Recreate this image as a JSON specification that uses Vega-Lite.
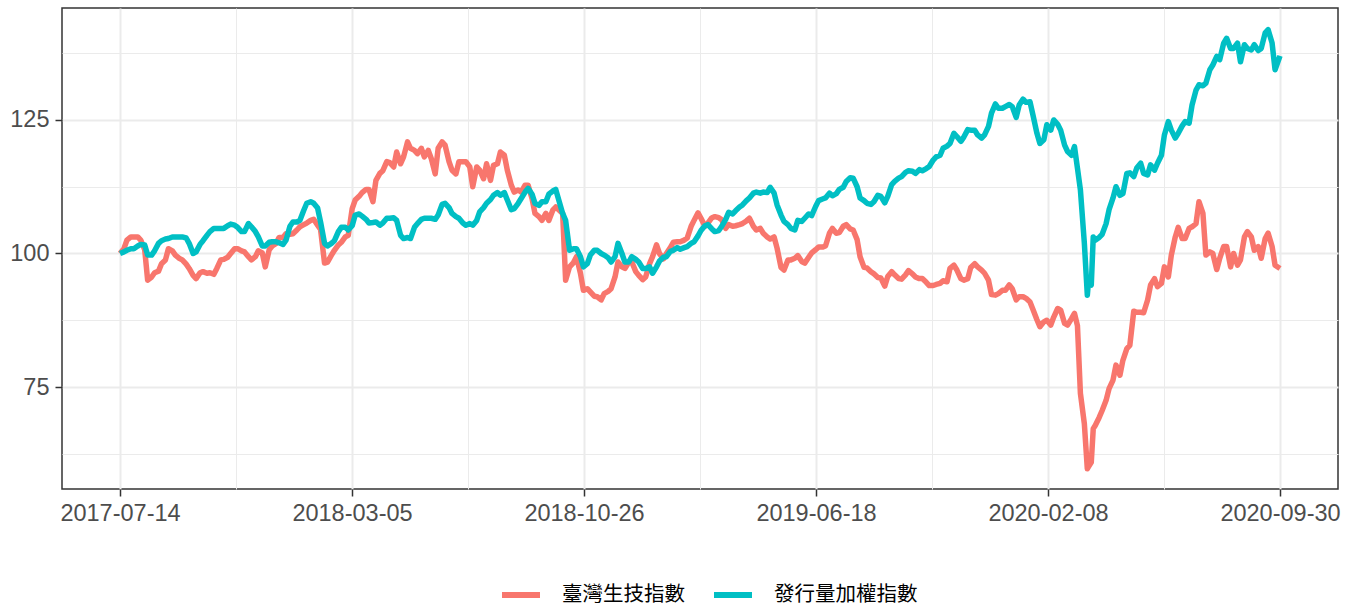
{
  "$schema": "https://vega.github.io/schema/vega-lite/v6.json",
  "width": 1276,
  "height": 481,
  "autosize": {"type": "none"},
  "padding": {"left": 62, "top": 8, "right": 15, "bottom": 118},
  "background": "white",
  "config": {
    "view": {"stroke": "#333333", "strokeWidth": 1.5},
    "axis": {
      "domain": false,
      "gridColor": "#EBEBEB",
      "tickColor": "#333333",
      "tickWidth": 1.5,
      "tickSize": 7,
      "labelFont": "Liberation Sans",
      "labelFontSize": 23.5,
      "labelColor": "#4D4D4D",
      "labelFlush": false,
      "labelOverlap": false,
      "title": null
    }
  },
  "data": {
    "values": [
      {"d": "2017-07-14", "bio": 100.0, "twse": 100.0},
      {"d": "2017-07-18", "bio": 100.9, "twse": 100.3},
      {"d": "2017-07-21", "bio": 102.5, "twse": 100.6},
      {"d": "2017-07-25", "bio": 103.1, "twse": 100.9},
      {"d": "2017-07-28", "bio": 103.1, "twse": 100.9},
      {"d": "2017-08-01", "bio": 103.1, "twse": 101.4},
      {"d": "2017-08-04", "bio": 102.5, "twse": 101.7},
      {"d": "2017-08-08", "bio": 100.7, "twse": 101.6},
      {"d": "2017-08-11", "bio": 95.0, "twse": 99.7},
      {"d": "2017-08-15", "bio": 95.6, "twse": 99.7},
      {"d": "2017-08-18", "bio": 96.4, "twse": 100.5},
      {"d": "2017-08-22", "bio": 96.7, "twse": 101.9},
      {"d": "2017-08-25", "bio": 98.1, "twse": 102.4},
      {"d": "2017-08-29", "bio": 98.8, "twse": 102.7},
      {"d": "2017-09-01", "bio": 100.9, "twse": 102.8},
      {"d": "2017-09-05", "bio": 100.5, "twse": 103.1},
      {"d": "2017-09-08", "bio": 99.7, "twse": 103.1},
      {"d": "2017-09-12", "bio": 99.1, "twse": 103.1},
      {"d": "2017-09-15", "bio": 98.8, "twse": 103.1},
      {"d": "2017-09-19", "bio": 98.0, "twse": 102.9},
      {"d": "2017-09-22", "bio": 97.2, "twse": 101.9},
      {"d": "2017-09-26", "bio": 95.9, "twse": 100.0},
      {"d": "2017-09-29", "bio": 95.3, "twse": 100.3},
      {"d": "2017-10-03", "bio": 96.4, "twse": 101.7},
      {"d": "2017-10-06", "bio": 96.6, "twse": 102.4},
      {"d": "2017-10-10", "bio": 96.3, "twse": 103.4},
      {"d": "2017-10-13", "bio": 96.4, "twse": 104.1},
      {"d": "2017-10-17", "bio": 96.1, "twse": 104.7},
      {"d": "2017-10-20", "bio": 97.2, "twse": 104.7},
      {"d": "2017-10-24", "bio": 98.8, "twse": 104.7},
      {"d": "2017-10-27", "bio": 98.9, "twse": 104.7},
      {"d": "2017-10-31", "bio": 99.3, "twse": 105.2},
      {"d": "2017-11-03", "bio": 100.0, "twse": 105.5},
      {"d": "2017-11-07", "bio": 100.9, "twse": 105.3},
      {"d": "2017-11-10", "bio": 100.9, "twse": 104.9},
      {"d": "2017-11-14", "bio": 100.5, "twse": 104.1},
      {"d": "2017-11-17", "bio": 100.3, "twse": 104.1},
      {"d": "2017-11-21", "bio": 99.4, "twse": 105.6},
      {"d": "2017-11-24", "bio": 98.8, "twse": 105.0},
      {"d": "2017-11-28", "bio": 99.4, "twse": 104.1},
      {"d": "2017-12-01", "bio": 100.5, "twse": 103.1},
      {"d": "2017-12-05", "bio": 100.1, "twse": 101.4},
      {"d": "2017-12-08", "bio": 97.5, "twse": 101.4},
      {"d": "2017-12-12", "bio": 100.7, "twse": 102.1},
      {"d": "2017-12-15", "bio": 101.4, "twse": 102.2},
      {"d": "2017-12-19", "bio": 101.9, "twse": 102.2},
      {"d": "2017-12-22", "bio": 103.0, "twse": 102.0},
      {"d": "2017-12-26", "bio": 103.0, "twse": 101.7},
      {"d": "2017-12-29", "bio": 103.7, "twse": 102.5},
      {"d": "2018-01-02", "bio": 103.6, "twse": 105.1},
      {"d": "2018-01-05", "bio": 103.7, "twse": 105.9},
      {"d": "2018-01-09", "bio": 104.4, "twse": 105.9},
      {"d": "2018-01-12", "bio": 105.0, "twse": 106.2},
      {"d": "2018-01-16", "bio": 105.4, "twse": 108.1},
      {"d": "2018-01-19", "bio": 105.7, "twse": 109.4},
      {"d": "2018-01-23", "bio": 106.2, "twse": 109.7},
      {"d": "2018-01-26", "bio": 106.4, "twse": 109.4},
      {"d": "2018-01-30", "bio": 105.3, "twse": 108.5},
      {"d": "2018-02-02", "bio": 104.5, "twse": 105.9},
      {"d": "2018-02-06", "bio": 98.2, "twse": 101.9},
      {"d": "2018-02-09", "bio": 98.4, "twse": 101.4},
      {"d": "2018-02-13", "bio": 99.7, "twse": 101.9},
      {"d": "2018-02-16", "bio": 100.6, "twse": 102.4},
      {"d": "2018-02-20", "bio": 101.6, "twse": 104.1},
      {"d": "2018-02-23", "bio": 102.1, "twse": 104.9},
      {"d": "2018-02-27", "bio": 103.1, "twse": 104.9},
      {"d": "2018-03-02", "bio": 103.4, "twse": 104.4},
      {"d": "2018-03-06", "bio": 108.4, "twse": 105.2},
      {"d": "2018-03-09", "bio": 110.0, "twse": 107.2},
      {"d": "2018-03-13", "bio": 110.7, "twse": 107.4},
      {"d": "2018-03-16", "bio": 111.4, "twse": 107.0},
      {"d": "2018-03-20", "bio": 112.0, "twse": 106.4},
      {"d": "2018-03-23", "bio": 112.0, "twse": 105.7},
      {"d": "2018-03-27", "bio": 109.7, "twse": 105.8},
      {"d": "2018-03-30", "bio": 113.7, "twse": 105.9},
      {"d": "2018-04-03", "bio": 115.0, "twse": 105.3},
      {"d": "2018-04-06", "bio": 115.5, "twse": 105.7},
      {"d": "2018-04-10", "bio": 117.2, "twse": 106.6},
      {"d": "2018-04-13", "bio": 117.0, "twse": 106.6},
      {"d": "2018-04-17", "bio": 116.2, "twse": 106.7},
      {"d": "2018-04-20", "bio": 119.0, "twse": 106.2},
      {"d": "2018-04-24", "bio": 116.8, "twse": 103.4},
      {"d": "2018-04-27", "bio": 118.1, "twse": 102.8},
      {"d": "2018-05-01", "bio": 120.9, "twse": 103.0},
      {"d": "2018-05-04", "bio": 119.7, "twse": 102.8},
      {"d": "2018-05-08", "bio": 119.3, "twse": 104.9},
      {"d": "2018-05-11", "bio": 118.7, "twse": 105.6},
      {"d": "2018-05-15", "bio": 119.7, "twse": 106.4},
      {"d": "2018-05-18", "bio": 118.1, "twse": 106.6},
      {"d": "2018-05-22", "bio": 119.3, "twse": 106.6},
      {"d": "2018-05-25", "bio": 117.8, "twse": 106.6},
      {"d": "2018-05-29", "bio": 114.9, "twse": 106.4},
      {"d": "2018-06-01", "bio": 119.7, "twse": 107.2},
      {"d": "2018-06-05", "bio": 120.9, "twse": 109.2},
      {"d": "2018-06-08", "bio": 120.3, "twse": 109.4},
      {"d": "2018-06-12", "bio": 117.2, "twse": 108.6},
      {"d": "2018-06-15", "bio": 115.6, "twse": 107.5},
      {"d": "2018-06-19", "bio": 114.9, "twse": 106.9},
      {"d": "2018-06-22", "bio": 117.2, "twse": 106.6},
      {"d": "2018-06-26", "bio": 117.2, "twse": 105.7},
      {"d": "2018-06-29", "bio": 117.2, "twse": 105.3},
      {"d": "2018-07-03", "bio": 116.2, "twse": 105.6},
      {"d": "2018-07-06", "bio": 112.5, "twse": 105.3},
      {"d": "2018-07-10", "bio": 116.2, "twse": 106.2},
      {"d": "2018-07-13", "bio": 115.6, "twse": 107.8},
      {"d": "2018-07-17", "bio": 114.0, "twse": 108.6},
      {"d": "2018-07-20", "bio": 116.8, "twse": 109.4},
      {"d": "2018-07-24", "bio": 113.7, "twse": 110.1},
      {"d": "2018-07-27", "bio": 116.5, "twse": 110.9},
      {"d": "2018-07-31", "bio": 116.8, "twse": 111.4},
      {"d": "2018-08-03", "bio": 119.0, "twse": 110.9},
      {"d": "2018-08-07", "bio": 118.4, "twse": 111.4},
      {"d": "2018-08-10", "bio": 115.6, "twse": 110.0},
      {"d": "2018-08-14", "bio": 112.8, "twse": 108.2},
      {"d": "2018-08-17", "bio": 111.5, "twse": 108.4},
      {"d": "2018-08-21", "bio": 111.9, "twse": 109.4},
      {"d": "2018-08-24", "bio": 111.5, "twse": 110.3},
      {"d": "2018-08-28", "bio": 112.8, "twse": 111.5},
      {"d": "2018-08-31", "bio": 112.8, "twse": 112.2},
      {"d": "2018-09-04", "bio": 110.3, "twse": 111.1},
      {"d": "2018-09-07", "bio": 107.5, "twse": 109.4},
      {"d": "2018-09-11", "bio": 106.9, "twse": 109.0},
      {"d": "2018-09-14", "bio": 106.2, "twse": 109.7},
      {"d": "2018-09-18", "bio": 107.5, "twse": 109.7},
      {"d": "2018-09-21", "bio": 106.2, "twse": 111.1},
      {"d": "2018-09-25", "bio": 108.1, "twse": 111.7},
      {"d": "2018-09-28", "bio": 108.7, "twse": 112.0},
      {"d": "2018-10-05", "bio": 107.5, "twse": 107.5},
      {"d": "2018-10-08", "bio": 95.0, "twse": 106.2},
      {"d": "2018-10-12", "bio": 97.5, "twse": 100.6},
      {"d": "2018-10-16", "bio": 98.3, "twse": 100.9},
      {"d": "2018-10-19", "bio": 99.4, "twse": 100.9},
      {"d": "2018-10-23", "bio": 96.3, "twse": 99.4},
      {"d": "2018-10-26", "bio": 93.1, "twse": 97.5},
      {"d": "2018-10-30", "bio": 93.4, "twse": 98.1},
      {"d": "2018-11-02", "bio": 92.8, "twse": 99.7},
      {"d": "2018-11-06", "bio": 92.0, "twse": 100.6},
      {"d": "2018-11-09", "bio": 91.9, "twse": 100.6},
      {"d": "2018-11-13", "bio": 91.3, "twse": 100.0},
      {"d": "2018-11-16", "bio": 92.5, "twse": 99.7},
      {"d": "2018-11-20", "bio": 92.9, "twse": 99.2},
      {"d": "2018-11-23", "bio": 93.4, "twse": 98.4},
      {"d": "2018-11-27", "bio": 95.6, "twse": 99.4},
      {"d": "2018-11-30", "bio": 98.4, "twse": 101.9},
      {"d": "2018-12-04", "bio": 97.5, "twse": 100.0},
      {"d": "2018-12-07", "bio": 97.2, "twse": 98.4},
      {"d": "2018-12-11", "bio": 98.4, "twse": 98.4},
      {"d": "2018-12-14", "bio": 98.4, "twse": 99.4},
      {"d": "2018-12-18", "bio": 96.6, "twse": 98.9},
      {"d": "2018-12-21", "bio": 95.9, "twse": 98.4},
      {"d": "2018-12-25", "bio": 95.1, "twse": 97.2},
      {"d": "2018-12-28", "bio": 95.6, "twse": 97.2},
      {"d": "2019-01-01", "bio": 98.1, "twse": 97.5},
      {"d": "2019-01-04", "bio": 99.4, "twse": 96.3},
      {"d": "2019-01-08", "bio": 101.6, "twse": 97.5},
      {"d": "2019-01-11", "bio": 100.0, "twse": 98.6},
      {"d": "2019-01-15", "bio": 99.0, "twse": 99.3},
      {"d": "2019-01-18", "bio": 100.0, "twse": 99.4},
      {"d": "2019-01-22", "bio": 101.1, "twse": 100.4},
      {"d": "2019-01-25", "bio": 102.1, "twse": 100.6},
      {"d": "2019-01-29", "bio": 102.2, "twse": 101.1},
      {"d": "2019-02-01", "bio": 102.2, "twse": 100.8},
      {"d": "2019-02-05", "bio": 102.5, "twse": 101.1},
      {"d": "2019-02-08", "bio": 102.9, "twse": 101.3},
      {"d": "2019-02-12", "bio": 105.1, "twse": 101.9},
      {"d": "2019-02-15", "bio": 106.2, "twse": 102.2},
      {"d": "2019-02-19", "bio": 107.6, "twse": 103.3},
      {"d": "2019-02-22", "bio": 106.6, "twse": 104.3},
      {"d": "2019-02-26", "bio": 105.1, "twse": 105.2},
      {"d": "2019-03-01", "bio": 105.7, "twse": 105.4},
      {"d": "2019-03-05", "bio": 106.7, "twse": 104.6},
      {"d": "2019-03-08", "bio": 106.9, "twse": 104.1},
      {"d": "2019-03-12", "bio": 106.7, "twse": 104.3},
      {"d": "2019-03-15", "bio": 106.3, "twse": 105.1},
      {"d": "2019-03-19", "bio": 104.7, "twse": 106.4},
      {"d": "2019-03-22", "bio": 105.4, "twse": 107.7},
      {"d": "2019-03-26", "bio": 105.1, "twse": 107.4},
      {"d": "2019-03-29", "bio": 105.2, "twse": 108.0},
      {"d": "2019-04-02", "bio": 105.4, "twse": 108.7},
      {"d": "2019-04-05", "bio": 105.6, "twse": 109.1},
      {"d": "2019-04-09", "bio": 106.1, "twse": 109.9},
      {"d": "2019-04-12", "bio": 106.6, "twse": 110.4},
      {"d": "2019-04-16", "bio": 105.1, "twse": 111.3},
      {"d": "2019-04-19", "bio": 104.4, "twse": 111.5},
      {"d": "2019-04-23", "bio": 104.7, "twse": 111.3},
      {"d": "2019-04-26", "bio": 103.8, "twse": 111.5},
      {"d": "2019-04-30", "bio": 103.1, "twse": 111.4},
      {"d": "2019-05-03", "bio": 102.7, "twse": 112.4},
      {"d": "2019-05-07", "bio": 103.1, "twse": 111.3},
      {"d": "2019-05-10", "bio": 101.0, "twse": 109.1},
      {"d": "2019-05-14", "bio": 97.4, "twse": 107.2},
      {"d": "2019-05-17", "bio": 96.9, "twse": 106.0},
      {"d": "2019-05-21", "bio": 98.8, "twse": 105.4},
      {"d": "2019-05-24", "bio": 98.8, "twse": 104.7},
      {"d": "2019-05-28", "bio": 99.1, "twse": 104.4},
      {"d": "2019-05-31", "bio": 99.6, "twse": 106.2},
      {"d": "2019-06-04", "bio": 98.5, "twse": 106.0},
      {"d": "2019-06-07", "bio": 98.2, "twse": 106.6},
      {"d": "2019-06-11", "bio": 99.3, "twse": 107.4},
      {"d": "2019-06-14", "bio": 100.1, "twse": 107.1},
      {"d": "2019-06-18", "bio": 100.7, "twse": 108.8},
      {"d": "2019-06-21", "bio": 101.2, "twse": 109.9},
      {"d": "2019-06-25", "bio": 101.2, "twse": 110.2},
      {"d": "2019-06-28", "bio": 101.4, "twse": 110.4},
      {"d": "2019-07-02", "bio": 103.8, "twse": 111.3},
      {"d": "2019-07-05", "bio": 104.7, "twse": 110.8},
      {"d": "2019-07-09", "bio": 103.8, "twse": 111.2},
      {"d": "2019-07-12", "bio": 103.9, "twse": 112.0},
      {"d": "2019-07-16", "bio": 105.1, "twse": 112.4},
      {"d": "2019-07-19", "bio": 105.4, "twse": 113.5},
      {"d": "2019-07-23", "bio": 104.6, "twse": 114.2},
      {"d": "2019-07-26", "bio": 104.4, "twse": 114.1},
      {"d": "2019-07-30", "bio": 102.6, "twse": 112.5},
      {"d": "2019-08-02", "bio": 99.4, "twse": 110.4},
      {"d": "2019-08-06", "bio": 97.4, "twse": 109.9},
      {"d": "2019-08-09", "bio": 97.3, "twse": 109.4},
      {"d": "2019-08-13", "bio": 96.6, "twse": 109.2},
      {"d": "2019-08-16", "bio": 96.2, "twse": 109.7},
      {"d": "2019-08-20", "bio": 95.5, "twse": 110.9},
      {"d": "2019-08-23", "bio": 95.4, "twse": 110.7},
      {"d": "2019-08-27", "bio": 93.9, "twse": 109.5},
      {"d": "2019-08-30", "bio": 95.7, "twse": 110.7},
      {"d": "2019-09-03", "bio": 96.6, "twse": 112.9},
      {"d": "2019-09-06", "bio": 96.0, "twse": 113.5},
      {"d": "2019-09-10", "bio": 95.3, "twse": 114.1},
      {"d": "2019-09-13", "bio": 95.2, "twse": 114.4},
      {"d": "2019-09-17", "bio": 96.0, "twse": 115.2},
      {"d": "2019-09-20", "bio": 96.8, "twse": 115.5},
      {"d": "2019-09-24", "bio": 96.2, "twse": 115.4},
      {"d": "2019-09-27", "bio": 95.6, "twse": 115.0},
      {"d": "2019-10-01", "bio": 95.3, "twse": 115.7},
      {"d": "2019-10-04", "bio": 95.3, "twse": 115.5},
      {"d": "2019-10-08", "bio": 94.6, "twse": 115.9},
      {"d": "2019-10-11", "bio": 94.0, "twse": 116.3},
      {"d": "2019-10-15", "bio": 94.0, "twse": 117.5},
      {"d": "2019-10-18", "bio": 94.2, "twse": 118.1},
      {"d": "2019-10-22", "bio": 94.4, "twse": 118.4},
      {"d": "2019-10-25", "bio": 94.9, "twse": 119.7},
      {"d": "2019-10-29", "bio": 94.7, "twse": 120.1},
      {"d": "2019-11-01", "bio": 97.2, "twse": 120.6},
      {"d": "2019-11-05", "bio": 97.8, "twse": 122.5},
      {"d": "2019-11-08", "bio": 96.9, "twse": 121.9},
      {"d": "2019-11-12", "bio": 95.3, "twse": 121.0},
      {"d": "2019-11-15", "bio": 95.0, "twse": 121.8},
      {"d": "2019-11-19", "bio": 95.3, "twse": 123.2},
      {"d": "2019-11-22", "bio": 97.4, "twse": 123.1},
      {"d": "2019-11-26", "bio": 98.1, "twse": 123.1},
      {"d": "2019-11-29", "bio": 97.5, "twse": 122.2},
      {"d": "2019-12-03", "bio": 96.9, "twse": 121.6},
      {"d": "2019-12-06", "bio": 96.3, "twse": 122.2},
      {"d": "2019-12-10", "bio": 95.0, "twse": 123.8},
      {"d": "2019-12-13", "bio": 92.3, "twse": 126.3},
      {"d": "2019-12-17", "bio": 92.2, "twse": 128.0},
      {"d": "2019-12-20", "bio": 92.5, "twse": 127.2},
      {"d": "2019-12-24", "bio": 93.1, "twse": 127.2},
      {"d": "2019-12-27", "bio": 93.1, "twse": 127.5},
      {"d": "2019-12-31", "bio": 94.1, "twse": 127.9},
      {"d": "2020-01-03", "bio": 93.4, "twse": 127.5},
      {"d": "2020-01-07", "bio": 91.3, "twse": 125.5},
      {"d": "2020-01-10", "bio": 91.9, "twse": 127.8},
      {"d": "2020-01-14", "bio": 91.9, "twse": 128.9},
      {"d": "2020-01-17", "bio": 91.6, "twse": 128.3},
      {"d": "2020-01-21", "bio": 90.9, "twse": 128.4},
      {"d": "2020-01-24", "bio": 89.5, "twse": 125.9},
      {"d": "2020-01-28", "bio": 87.6, "twse": 122.5},
      {"d": "2020-01-31", "bio": 86.3, "twse": 120.6},
      {"d": "2020-02-04", "bio": 87.2, "twse": 121.3},
      {"d": "2020-02-07", "bio": 87.5, "twse": 124.1},
      {"d": "2020-02-11", "bio": 86.6, "twse": 123.1},
      {"d": "2020-02-14", "bio": 88.1, "twse": 125.0},
      {"d": "2020-02-18", "bio": 89.7, "twse": 124.2},
      {"d": "2020-02-21", "bio": 89.4, "twse": 123.1},
      {"d": "2020-02-25", "bio": 86.9, "twse": 120.3},
      {"d": "2020-02-28", "bio": 86.6, "twse": 119.1},
      {"d": "2020-03-03", "bio": 87.8, "twse": 118.4},
      {"d": "2020-03-06", "bio": 88.8, "twse": 120.0},
      {"d": "2020-03-09", "bio": 86.5, "twse": 116.0},
      {"d": "2020-03-12", "bio": 73.8, "twse": 111.9},
      {"d": "2020-03-16", "bio": 68.1, "twse": 101.9},
      {"d": "2020-03-19", "bio": 59.7, "twse": 92.2},
      {"d": "2020-03-20", "bio": 60.0, "twse": 94.4},
      {"d": "2020-03-23", "bio": 60.9, "twse": 94.1},
      {"d": "2020-03-25", "bio": 67.2, "twse": 103.1},
      {"d": "2020-03-27", "bio": 67.8, "twse": 102.5},
      {"d": "2020-03-31", "bio": 69.3, "twse": 103.0},
      {"d": "2020-04-03", "bio": 70.6, "twse": 103.6},
      {"d": "2020-04-07", "bio": 72.5, "twse": 105.6},
      {"d": "2020-04-10", "bio": 74.7, "twse": 108.2},
      {"d": "2020-04-14", "bio": 76.3, "twse": 110.4},
      {"d": "2020-04-17", "bio": 79.1, "twse": 112.5},
      {"d": "2020-04-21", "bio": 77.2, "twse": 110.9},
      {"d": "2020-04-24", "bio": 80.0, "twse": 111.2},
      {"d": "2020-04-28", "bio": 82.2, "twse": 115.0},
      {"d": "2020-05-01", "bio": 82.8, "twse": 115.1},
      {"d": "2020-05-05", "bio": 89.2, "twse": 114.4},
      {"d": "2020-05-08", "bio": 89.0, "twse": 116.0},
      {"d": "2020-05-12", "bio": 89.0, "twse": 116.9},
      {"d": "2020-05-15", "bio": 88.9, "twse": 115.0},
      {"d": "2020-05-19", "bio": 91.3, "twse": 114.7},
      {"d": "2020-05-22", "bio": 94.1, "twse": 116.6},
      {"d": "2020-05-26", "bio": 95.3, "twse": 115.6},
      {"d": "2020-05-29", "bio": 93.8, "twse": 116.9},
      {"d": "2020-06-02", "bio": 94.4, "twse": 118.4},
      {"d": "2020-06-05", "bio": 97.5, "twse": 122.2},
      {"d": "2020-06-09", "bio": 95.6, "twse": 124.7},
      {"d": "2020-06-12", "bio": 99.7, "twse": 123.1},
      {"d": "2020-06-16", "bio": 103.1, "twse": 121.6},
      {"d": "2020-06-19", "bio": 104.9, "twse": 122.5},
      {"d": "2020-06-23", "bio": 102.8, "twse": 123.9},
      {"d": "2020-06-26", "bio": 102.8, "twse": 124.7},
      {"d": "2020-06-30", "bio": 104.7, "twse": 124.4},
      {"d": "2020-07-03", "bio": 105.0, "twse": 127.8},
      {"d": "2020-07-07", "bio": 105.6, "twse": 130.6},
      {"d": "2020-07-10", "bio": 109.7, "twse": 131.6},
      {"d": "2020-07-14", "bio": 107.5, "twse": 131.4},
      {"d": "2020-07-17", "bio": 99.7, "twse": 131.9},
      {"d": "2020-07-21", "bio": 100.3, "twse": 134.4},
      {"d": "2020-07-24", "bio": 100.0, "twse": 135.3},
      {"d": "2020-07-28", "bio": 97.0, "twse": 136.9},
      {"d": "2020-07-31", "bio": 99.1, "twse": 136.3},
      {"d": "2020-08-04", "bio": 101.3, "twse": 139.4},
      {"d": "2020-08-07", "bio": 101.3, "twse": 140.3},
      {"d": "2020-08-11", "bio": 97.5, "twse": 138.4},
      {"d": "2020-08-14", "bio": 100.0, "twse": 138.4},
      {"d": "2020-08-18", "bio": 97.8, "twse": 139.4},
      {"d": "2020-08-21", "bio": 98.8, "twse": 135.9},
      {"d": "2020-08-25", "bio": 103.1, "twse": 139.1},
      {"d": "2020-08-28", "bio": 104.1, "twse": 138.4},
      {"d": "2020-09-01", "bio": 103.1, "twse": 138.1},
      {"d": "2020-09-04", "bio": 100.6, "twse": 139.1},
      {"d": "2020-09-08", "bio": 101.3, "twse": 138.0},
      {"d": "2020-09-11", "bio": 99.1, "twse": 138.4},
      {"d": "2020-09-15", "bio": 102.8, "twse": 141.3},
      {"d": "2020-09-18", "bio": 103.8, "twse": 141.9},
      {"d": "2020-09-22", "bio": 101.3, "twse": 139.4},
      {"d": "2020-09-25", "bio": 97.8, "twse": 134.4},
      {"d": "2020-09-30", "bio": 97.2, "twse": 137.0}
    ]
  },
  "transform": [{"fold": ["bio", "twse"], "as": ["series", "value"]}],
  "mark": {"type": "line", "strokeWidth": 5.5, "strokeJoin": "round", "strokeCap": "butt"},
  "encoding": {
    "x": {
      "field": "d",
      "type": "temporal",
      "scale": {"type": "utc", "domain": [1494918720000, 1606495680000], "nice": false},
      "axis": {
        "values": [1499990400000, 1510133760000, 1520277120000, 1530420480000, 1540563840000, 1550707200000, 1560850560000, 1570993920000, 1581137280000, 1591280640000, 1601424000000],
        "labelExpr": "indexof([1499990400000,1520277120000,1540563840000,1560850560000,1581137280000,1601424000000], time(datum.value)) >= 0 ? utcFormat(datum.value, '%Y-%m-%d') : ''",
        "gridWidth": {"condition": {"test": "indexof([1499990400000,1520277120000,1540563840000,1560850560000,1581137280000,1601424000000], time(datum.value)) >= 0", "value": 2}, "value": 1},
        "tickOpacity": {"condition": {"test": "indexof([1499990400000,1520277120000,1540563840000,1560850560000,1581137280000,1601424000000], time(datum.value)) >= 0", "value": 1}, "value": 0},
        "labelPadding": 5
      }
    },
    "y": {
      "field": "value",
      "type": "quantitative",
      "scale": {"domain": [55.9, 145.97], "nice": false, "zero": false},
      "axis": {
        "values": [62.5, 75, 87.5, 100, 112.5, 125, 137.5],
        "labelExpr": "datum.value % 25 == 0 ? datum.label : ''",
        "gridWidth": {"condition": {"test": "datum.value % 25 == 0", "value": 2}, "value": 1},
        "tickOpacity": {"condition": {"test": "datum.value % 25 == 0", "value": 1}, "value": 0},
        "labelPadding": 6
      }
    },
    "color": {
      "field": "series",
      "type": "nominal",
      "scale": {"domain": ["bio", "twse"], "range": ["#F8766D", "#00BFC4"]},
      "legend": {
        "orient": "none",
        "legendX": 437,
        "legendY": 565,
        "direction": "horizontal",
        "title": null,
        "padding": 0,
        "symbolType": "stroke",
        "symbolSize": 1444,
        "symbolStrokeWidth": 6,
        "labelExpr": "datum.value == 'bio' ? '臺灣生技指數' : '發行量加權指數'",
        "labelFont": "Noto Sans CJK TC",
        "labelFontSize": 20.5,
        "labelColor": "#000000",
        "labelOffset": 19,
        "columnPadding": 17
      }
    }
  }
}
